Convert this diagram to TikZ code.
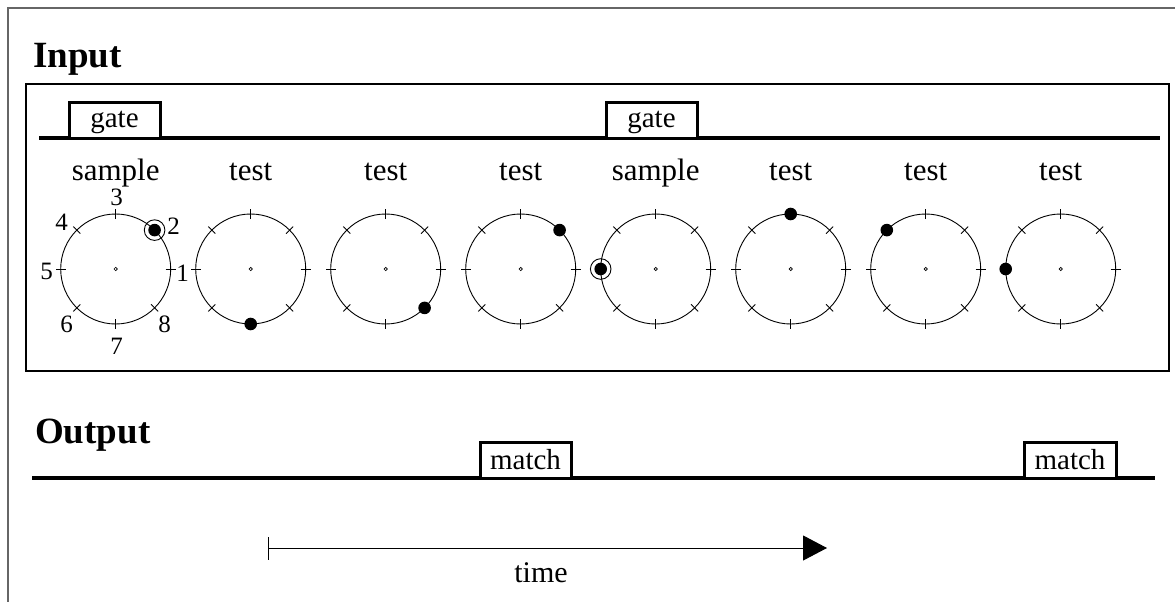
\documentclass[tikz,border=0pt]{standalone}
\usepackage{fontspec}
\setmainfont{Liberation Serif}
\usetikzlibrary{arrows.meta}
\begin{document}
\begin{tikzpicture}[x=1pt,y=-1pt,
  heading/.style={font=\fontsize{37}{40}\selectfont\bfseries, anchor=base west, inner sep=0},
  lbl/.style={font=\fontsize{31}{36}\selectfont, anchor=base, inner sep=0},
  pulse/.style={draw, line width=3pt, minimum height=36pt, inner sep=0, outer sep=0,
    font=\fontsize{29}{32}\selectfont, anchor=south west, fill=white},
  gatebox/.style={pulse, minimum width=91pt, text height=20pt, text depth=6pt},
  matchbox/.style={pulse, text height=22pt, text depth=4pt},
  num/.style={font=\fontsize{25}{28}\selectfont, inner sep=0},
  dialline/.style={line width=0.9pt},
  signal/.style={line width=3.4pt},
  frame/.style={line width=1.3pt}]
\useasboundingbox (0,0) rectangle (1175,602);

% outer border (top and left edges)
\coordinate (ob) at (8,602);
\coordinate (ol) at (8,8);
\coordinate (or) at (1175,8);
\draw[frame, black!60] (ob) -- (ol) -- (or);

% Input section
\node[heading] (input) at (33,67) {Input};
\coordinate (ib1) at (26,84);
\coordinate (ib2) at (1169,371);
\draw[frame] (ib1) rectangle (ib2);

% gate signal
\coordinate (gs) at (39,138);
\coordinate (ge) at (1160,138);
\draw[signal] (gs) -- (ge);
\node[gatebox] (gate1) at (69,138) {gate};
\node[gatebox] (gate2) at (606,138) {gate};

% dials: sample/test positions with the dot on the rim
\foreach \i/\lab/\ang/\ring in {0/sample/45/1, 1/test/270/0, 2/test/315/0, 3/test/45/0,
                                4/sample/180/1, 5/test/90/0, 6/test/135/0, 7/test/180/0} {
  \coordinate (c\i) at (115.7+135*\i,269);
  \node[lbl] (l\i) at (115.7+135*\i,180) {\lab};
  \draw[dialline] (c\i) circle[radius=55pt];
  \foreach \t in {0,45,...,315}
    \draw[dialline] ([shift={(\t:50pt)}]c\i) -- ([shift={(\t:60pt)}]c\i);
  \draw[line width=0.7pt] (c\i) circle[radius=1.7pt];
  \coordinate (d\i) at ([shift={(\ang:55pt)}]c\i);
  \fill (d\i) circle[radius=6.3pt];
  \ifnum\ring=1 \draw[dialline] (d\i) circle[radius=10.3pt]; \fi
}

% position numbers around the first dial
\node[num] (n1) at ([shift={(67,4)}]c0) {1};
\node[num] (n2) at ([shift={(58,-43)}]c0) {2};
\node[num] (n3) at ([shift={(1,-72)}]c0) {3};
\node[num] (n4) at ([shift={(-54,-47)}]c0) {4};
\node[num] (n5) at ([shift={(-69,2)}]c0) {5};
\node[num] (n6) at ([shift={(-49,55)}]c0) {6};
\node[num] (n7) at ([shift={(1,77)}]c0) {7};
\node[num] (n8) at ([shift={(49,55)}]c0) {8};

% Output section
\node[heading] (output) at (35,443) {Output};
\coordinate (os) at (32,478);
\coordinate (oe) at (1155,478);
\draw[signal] (os) -- (oe);
\node[matchbox, minimum width=91pt] (match1) at (480,478) {match};
\node[matchbox, minimum width=92pt] (match2) at (1024,478) {match};

% time axis
\coordinate (t0) at (268,548);
\coordinate (t1) at (827,548);
\coordinate (tt) at (268,537);
\coordinate (tb) at (268,560);
\draw[line width=1pt] (tt) -- (tb);
\draw[line width=1pt, -{Triangle[length=24pt,width=25pt]}] (t0) -- (t1);
\node[lbl, font=\fontsize{30}{34}\selectfont] (time) at (541,582) {time};
\end{tikzpicture}
\end{document}
